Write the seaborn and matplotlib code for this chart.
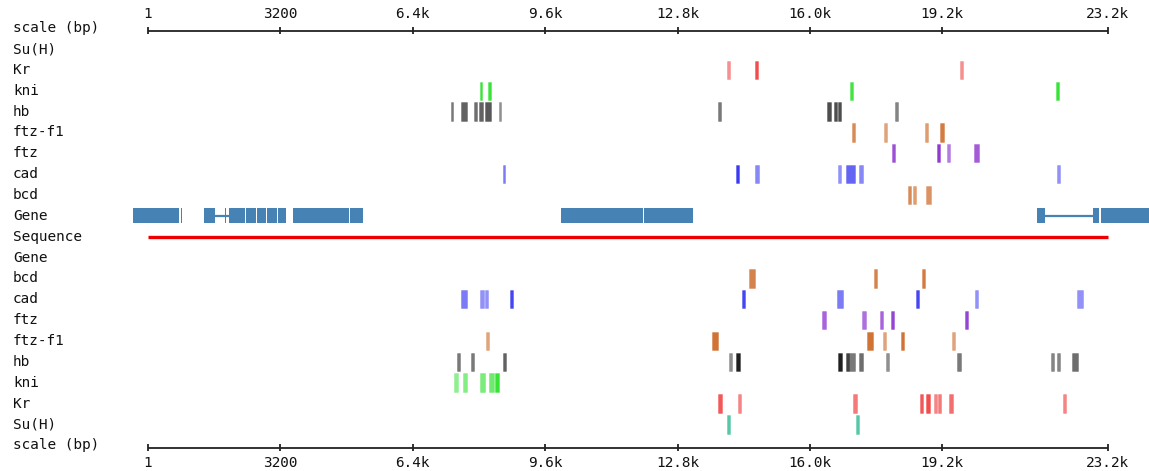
import matplotlib
matplotlib.use("Agg")
import matplotlib.pyplot as plt
import seaborn as sns
from matplotlib.colors import to_rgba
from matplotlib.transforms import blended_transform_factory

# ---------------- data ----------------
SEQ_START = 1
SEQ_END = 23200
TICKS = [1, 3200, 6400, 9600, 12800, 16000, 19200, 23200]
TICK_LABELS = ["1", "3200", "6.4k", "9.6k", "12.8k", "16.0k", "19.2k", "23.2k"]

ROW_LABELS = ["scale (bp)", "Su(H)", "Kr", "kni", "hb", "ftz-f1", "ftz", "cad", "bcd", "Gene",
              "Sequence",
              "Gene", "bcd", "cad", "ftz", "ftz-f1", "hb", "kni", "Kr", "Su(H)", "scale (bp)"]

TRACK_COLORS = {"Su(H)": "#1fb58a", "Kr": "#ee2020", "kni": "#20e020", "hb": "#202020",
                "ftz-f1": "#c85a10", "ftz": "#8424cc", "cad": "#2424f0", "bcd": "#c85a10"}
GENE_COLOR = "#4682b4"
SEQ_COLOR = "#ee0000"

# binding sites above the sequence: (start, end, score-shade)
top_SuH = []
top_Kr = [(13990, 14070, .5), (14680, 14750, .8), (19630, 19710, .5)]
top_kni = [(8017, 8065, .9), (8225, 8283, .9), (16975, 17047, .85), (21939, 22012, .9)]
top_hb = [(7316, 7379, .6), (7573, 7703, .7), (7887, 7959, .65), (7993, 8104, .7),
          (8145, 8298, .75), (8476, 8532, .5), (13777, 13857, .6), (16404, 16508, .8),
          (16573, 16653, .8), (16677, 16757, .8), (18055, 18135, .55)]
top_ftzf1 = [(17016, 17088, .7), (17796, 17869, .55), (18780, 18853, .6), (19135, 19247, .8)]
top_ftz = [(17982, 18055, .8), (19063, 19135, .9), (19312, 19384, .6), (19964, 20078, .75)]
top_cad = [(8573, 8636, .6), (14212, 14292, .9), (14678, 14761, .55), (16684, 16757, .5),
           (16871, 17095, .7), (17192, 17274, .55), (21978, 22050, .5)]
top_bcd = [(18369, 18442, .7), (18483, 18555, .6), (18812, 18925, .65)]

# binding sites below the sequence
bot_bcd = [(14533, 14678, .75), (17555, 17627, .75), (18708, 18780, .8)]
bot_cad = [(7573, 7717, .6), (8032, 8114, .5), (8145, 8225, .5), (8750, 8822, .85),
           (14357, 14429, .85), (16653, 16806, .6), (18563, 18642, .85), (19996, 20069, .5),
           (22447, 22592, .5)]
bot_ftz = [(16298, 16380, .7), (17265, 17347, .65), (17692, 17772, .7), (17951, 18031, .85),
           (19747, 19827, .85)]
bot_ftzf1 = [(8169, 8249, .55), (13639, 13784, .85), (17371, 17531, .85), (17765, 17845, .55),
             (18207, 18280, .85), (19425, 19498, .55)]
bot_hb = [(7461, 7534, .6), (7814, 7887, .6), (8580, 8653, .7), (14036, 14115, .5),
          (14212, 14301, 1.0), (16684, 16766, 1.0), (16871, 16951, .85), (16951, 17095, .6),
          (17192, 17274, .65), (17837, 17917, .5), (19561, 19643, .6), (21826, 21905, .55),
          (21971, 22050, .55), (22340, 22485, .65)]
bot_kni = [(7389, 7493, .5), (7606, 7710, .55), (8032, 8145, .6), (8249, 8363, .65),
           (8387, 8476, .9)]
bot_Kr = [(13784, 13866, .75), (14253, 14326, .55), (17047, 17129, .6), (18667, 18739, .75),
          (18812, 18894, .8), (18990, 19063, .55), (19102, 19174, .6), (19353, 19466, .65),
          (22123, 22196, .55)]
bot_SuH = [(14002, 14075, .75), (17120, 17192, .75)]

# gene model (top Gene row)
gene_exons = [(-370, 761), (786, 829), (1354, 1619), (1860, 1885), (1958, 2344), (2360, 2610),
              (2626, 2852), (2868, 3118), (3134, 3335), (3512, 4858), (4875, 5204),
              (9975, 11963), (11987, 13180), (21494, 21680), (22833, 22986), (23027, 24460)]
gene_introns = [(1619, 1958), (21680, 22833)]

TRACKS = [
    (1, "Su(H)", top_SuH), (2, "Kr", top_Kr), (3, "kni", top_kni), (4, "hb", top_hb),
    (5, "ftz-f1", top_ftzf1), (6, "ftz", top_ftz), (7, "cad", top_cad), (8, "bcd", top_bcd),
    (12, "bcd", bot_bcd), (13, "cad", bot_cad), (14, "ftz", bot_ftz), (15, "ftz-f1", bot_ftzf1),
    (16, "hb", bot_hb), (17, "kni", bot_kni), (18, "Kr", bot_Kr), (19, "Su(H)", bot_SuH),
]

# ---------------- layout ----------------
W, H = 1149, 471
BP_PER_PX = 24.17
X0_PX = 148
ROW0_PX = 28.2
ROW_PX = 20.85

sns.set_theme(style="white")
plt.rcParams["font.family"] = ["DejaVu Sans Mono"]

fig = plt.figure(figsize=(W / 100, H / 100), dpi=100)
ax = fig.add_axes([0, 0, 1, 1])
ax.set_xlim(-X0_PX * BP_PER_PX, (W - X0_PX) * BP_PER_PX)
ax.set_ylim((H - ROW0_PX) / ROW_PX, -ROW0_PX / ROW_PX)
ax.axis("off")

FS = 10.4
lab_tr = blended_transform_factory(ax.transAxes, ax.transData)
for i, lab in enumerate(ROW_LABELS):
    ax.text(13 / W, i, lab, transform=lab_tr, ha="left", va="center",
            fontsize=FS, color="#111111")

# scale bars
for row, lab_dy in [(0, -0.68), (20, 0.86)]:
    yl = row + 0.12
    ax.plot([SEQ_START, SEQ_END], [yl, yl], color="#222222", lw=1.3, solid_capstyle="butt")
    ax.vlines(TICKS, yl - 0.16, yl + 0.16, color="#222222", lw=1.3)
    for t, tl in zip(TICKS, TICK_LABELS):
        ax.text(t, row + lab_dy, tl, ha="center", va="center", fontsize=FS, color="#111111")

# sequence line
ax.plot([SEQ_START, SEQ_END], [10, 10], color=SEQ_COLOR, lw=2.4, solid_capstyle="butt")

# binding sites
MH = 0.88
for row, name, sites in TRACKS:
    if not sites:
        continue
    starts = [s for s, e, a in sites]
    widths = [e - s for s, e, a in sites]
    cols = [to_rgba(TRACK_COLORS[name], a) for s, e, a in sites]
    ecols = [to_rgba(TRACK_COLORS[name], a * 0.35) for s, e, a in sites]
    ax.bar(starts, MH, width=widths, bottom=row - MH / 2, align="edge",
           color=cols, edgecolor=ecols, linewidth=0.7)

# gene
GH = 0.72
for s, e in gene_introns:
    ax.plot([s, e], [9, 9], color=GENE_COLOR, lw=1.6, solid_capstyle="butt")
ax.bar([s for s, e in gene_exons], GH, width=[e - s for s, e in gene_exons],
       bottom=9 - GH / 2, align="edge", color=GENE_COLOR, edgecolor="none", linewidth=0)

fig.savefig("out.png", dpi=100)
